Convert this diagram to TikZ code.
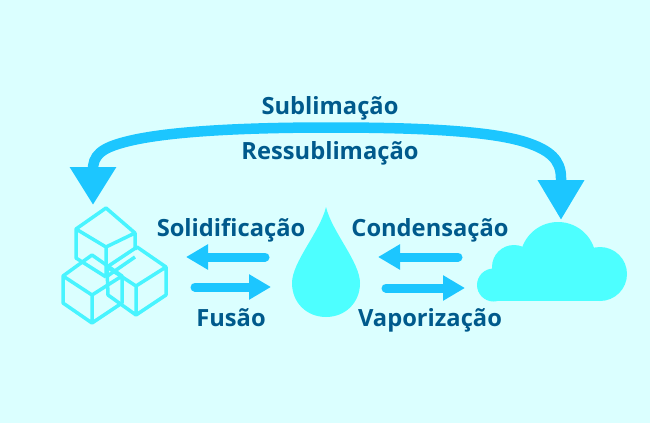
\documentclass[tikz,border=0pt]{standalone}
\usepackage{fontspec}
\setmainfont{Open Sans}
\usetikzlibrary{arrows.meta}
\definecolor{bgc}{HTML}{DBFFFF}
\definecolor{iconc}{HTML}{4DFFFF}
\definecolor{cubec}{HTML}{48F4FF}
\definecolor{arrowc}{HTML}{1CC6FF}
\definecolor{textc}{HTML}{005A8C}
\tikzset{
  x=1pt,y=-1pt,
  lbl/.style={font=\fontsize{23.7}{28}\selectfont\bfseries,text=textc,inner sep=0pt,anchor=base},
  small/.style={draw=arrowc,line width=9pt,line cap=round,-{Triangle[length=22pt,width=24pt]}},
  big/.style={draw=arrowc,line width=10.5pt,{Triangle[length=38pt,width=44pt]}-{Triangle[length=40pt,width=44pt]}},
  cube/.style={draw=cubec,line width=3.5pt,line join=round},
}
\begin{document}
\begin{tikzpicture}
\useasboundingbox[fill=bgc] (0,0) rectangle (650,423);
% labels
\node[lbl] (sub) at (330,114) {Sublimação};
\node[lbl] (res) at (330,159.5) {Ressublimação};
\node[lbl] (sol) at (231,236) {Solidificação};
\node[lbl] (con) at (430,236) {Condensação};
\node[lbl] (fus) at (231,326) {Fusão};
\node[lbl] (vap) at (430,326) {Vaporização};
% sublimation arrow
\coordinate (bl) at (93,205);
\coordinate (br) at (561,220);
\coordinate (bm) at (330,127.5);
\draw[big] (bl) -- (93,172) .. controls (92,155) and (102,148) .. (125,142)
  .. controls (170,130) and (260,127.5) .. (bm)
  .. controls (420,127.5) and (490,131) .. (525,142)
  .. controls (550,150) and (561,160) .. (561,178) -- (br);
% small arrows
\coordinate (a1s) at (265,257); \coordinate (a1e) at (186,257);
\coordinate (a2s) at (195,287); \coordinate (a2e) at (271,287);
\coordinate (a3s) at (458,257); \coordinate (a3e) at (378,257);
\coordinate (a4s) at (386,288); \coordinate (a4e) at (465,288);
\draw[small] (a1s) -- (a1e);
\draw[small] (a2s) -- (a2e);
\draw[small] (a3s) -- (a3e);
\draw[small] (a4s) -- (a4e);
% cubes
\draw[cube] (106,208) -- (135,233) -- (106,247) -- (76,229) -- cycle
  (76,229) -- (76,258) -- (106,277) (106,247) -- (106,277) (135,233) -- (135,250) (106,277) -- (135,257);
\draw[cube] (92,255) -- (122,276) -- (92,295) -- (63,276) -- cycle
  (63,276) -- (63,303) -- (92,323) -- (122,303) -- (122,276) (92,295) -- (92,323);
\draw[cube] (137,247) -- (166,267) -- (136,286) -- (107,267) -- cycle
  (107,267) -- (108,295) -- (136,315) -- (166,295) -- (166,267) (136,286) -- (136,315);
% drop
\fill[iconc] (326,207) .. controls (332,232) and (360,262) .. (360,283)
  .. controls (360,303) and (345,317) .. (326,317)
  .. controls (307,317) and (292,303) .. (292,283)
  .. controls (292,262) and (320,232) .. (326,207) -- cycle;
% cloud
\fill[iconc] (493.5,285) circle[radius=16.5];
\fill[iconc] (514,267) circle[radius=22];
\fill[iconc] (558,260) circle[radius=38];
\fill[iconc] (600,274) circle[radius=27];
\fill[iconc] (493.5,265) rectangle (600,301);
\end{tikzpicture}
\end{document}
